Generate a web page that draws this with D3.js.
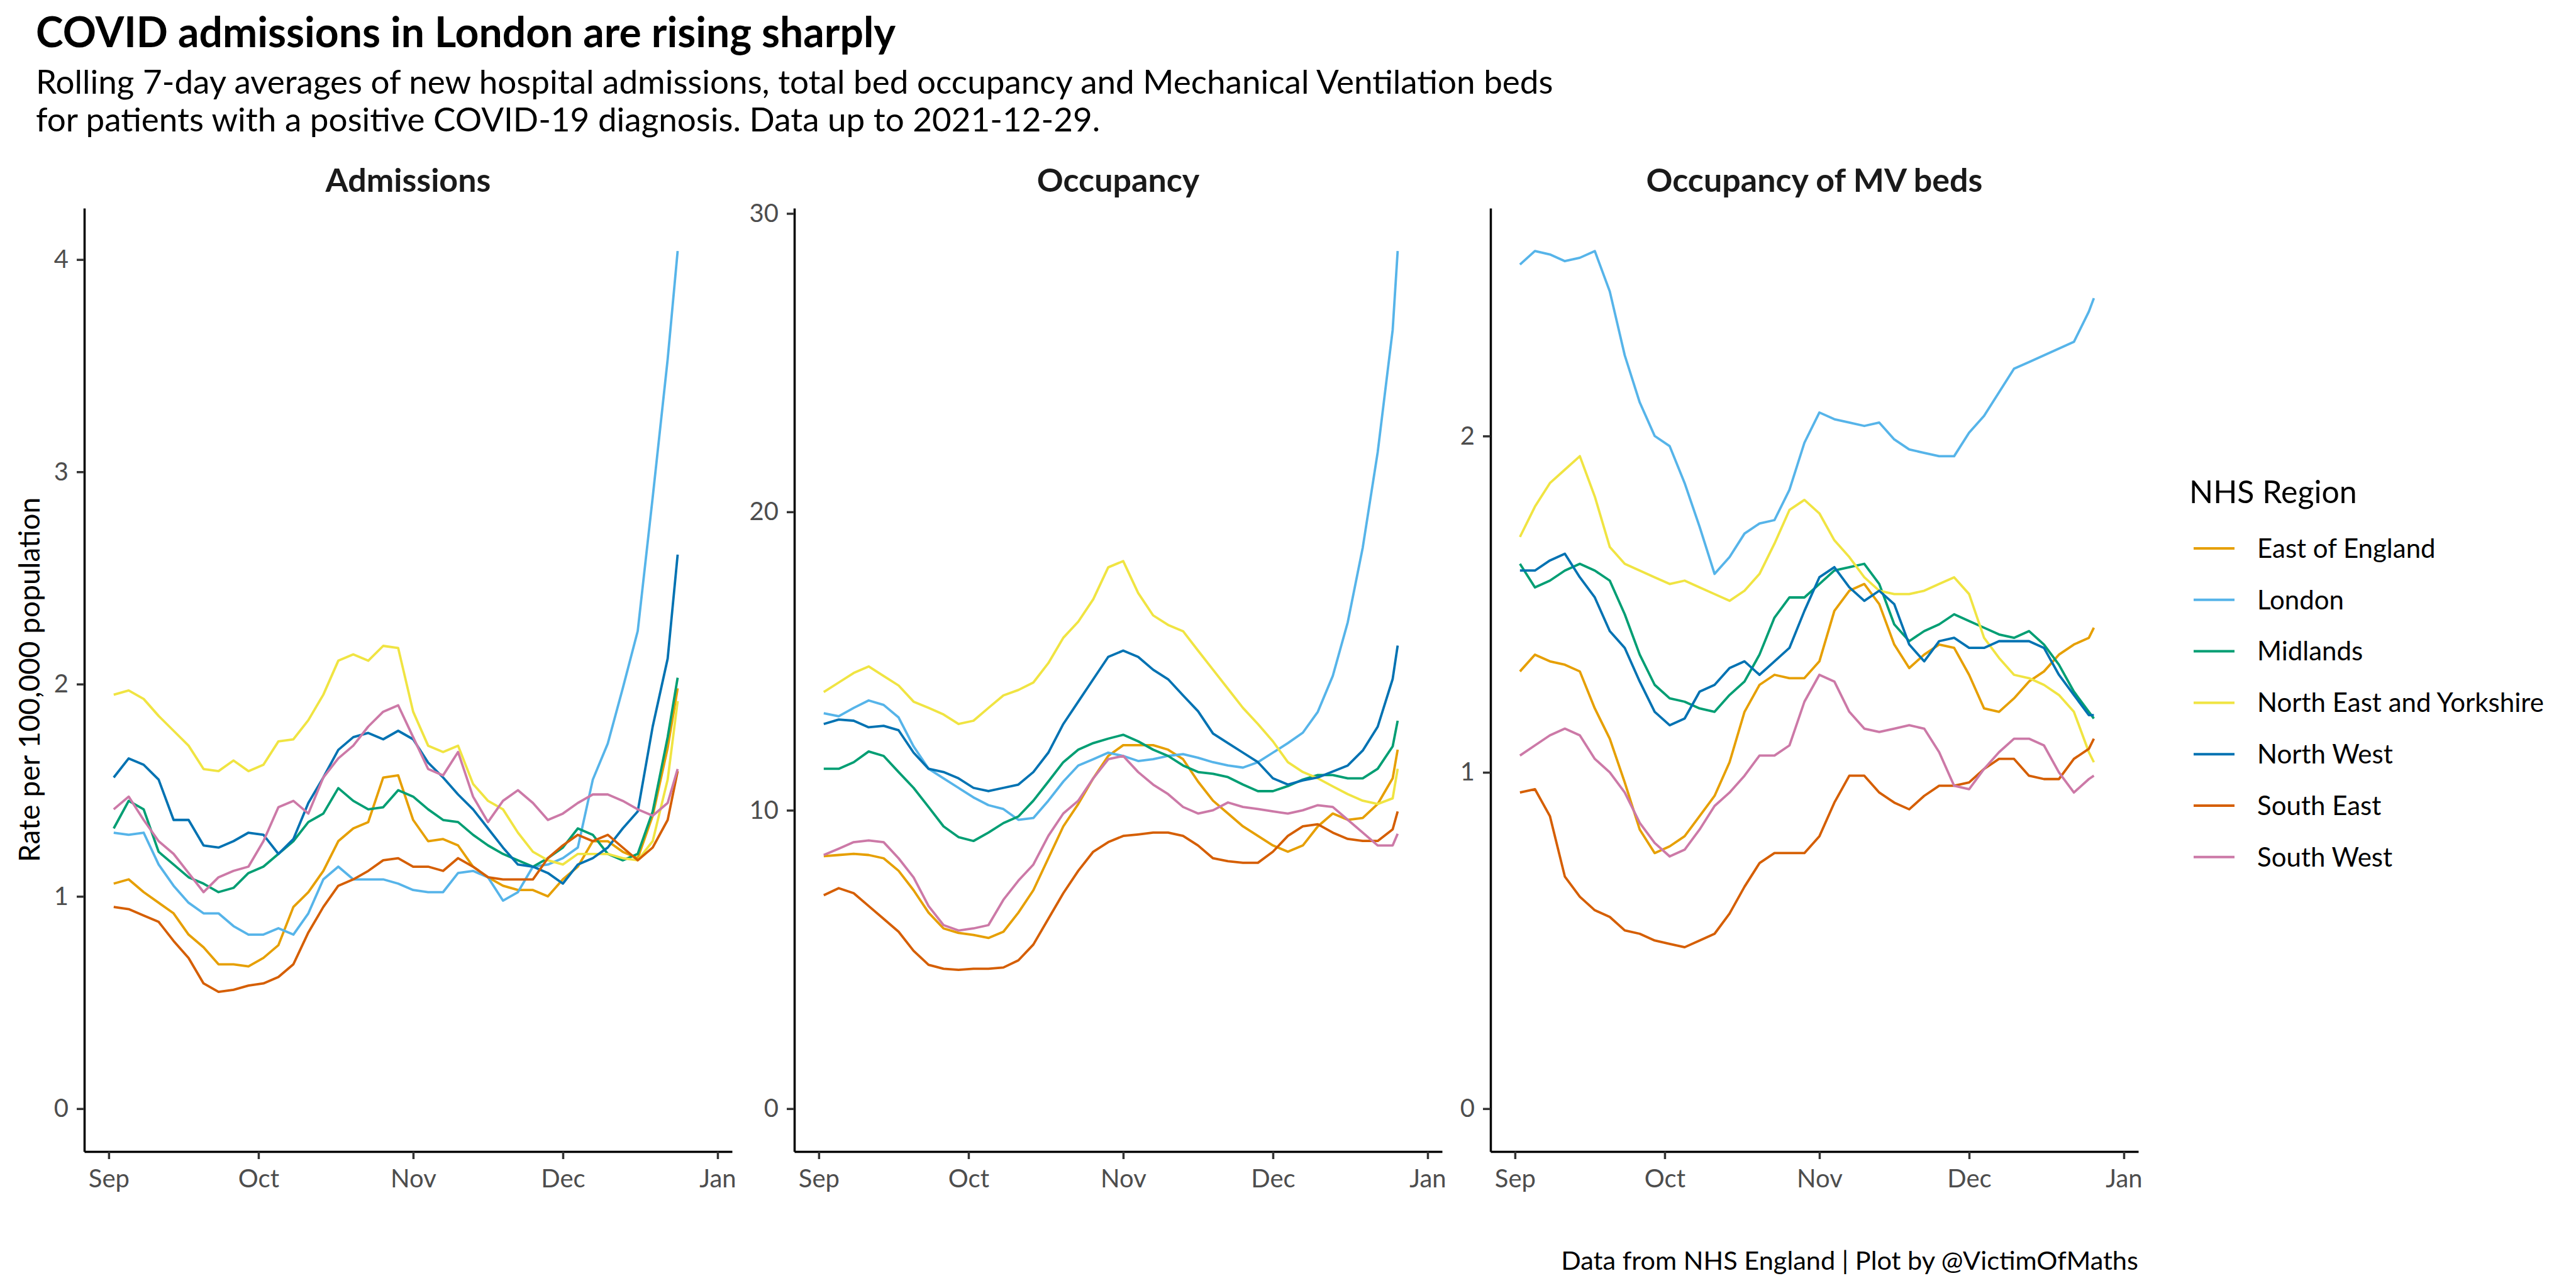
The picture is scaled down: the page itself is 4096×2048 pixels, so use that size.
<!DOCTYPE html>
<html><head><meta charset="utf-8">
<script src="https://cdn.jsdelivr.net/npm/d3@7"></script>
<style>
body{margin:0;background:#fff}
svg{display:block}
text{font-family:Lato,"Noto Sans",sans-serif}
</style>
</head><body>
<svg id="chart" width="4096" height="2048"></svg>
<script>
// ---------- data ----------
const regions = ["East of England","London","Midlands","North East and Yorkshire","North West","South East","South West"];
const regionColors = ["#E69F00","#56B4E9","#009E73","#F0E442","#0072B2","#D55E00","#CC79A7"];
const panelTitles = ["Admissions","Occupancy","Occupancy of MV beds"];
const monthLabels = ["Sep","Oct","Nov","Dec","Jan"];
const admTicks = [0,1,2,3,4];
const occTicks = [0,10,20,30];
const mvTicks = [0,1,2];

// day offsets from 2021-09-01
const admDays = [1,4,7,10,13,16,19,22,25,28,31,34,37,40,43,46,49,52,55,58,61,64,67,70,73,76,79,82,85,88,91,94,97,100,103,106,109,112,114];
const occDays = [1,4,7,10,13,16,19,22,25,28,31,34,37,40,43,46,49,52,55,58,61,64,67,70,73,76,79,82,85,88,91,94,97,100,103,106,109,112,115,116];

const admEast = [1.06,1.08,1.02,0.97,0.92,0.82,0.76,0.68,0.68,0.67,0.71,0.77,0.95,1.02,1.12,1.26,1.32,1.35,1.56,1.57,1.36,1.26,1.27,1.24,1.14,1.09,1.05,1.03,1.03,1.00,1.08,1.14,1.26,1.26,1.21,1.18,1.38,1.70,1.98];
const admLondon = [1.30,1.29,1.30,1.15,1.05,0.97,0.92,0.92,0.86,0.82,0.82,0.85,0.82,0.92,1.08,1.14,1.08,1.08,1.08,1.06,1.03,1.02,1.02,1.11,1.12,1.09,0.98,1.02,1.14,1.15,1.18,1.23,1.55,1.72,1.98,2.25,2.88,3.53,4.04];
const admMidlands = [1.32,1.45,1.41,1.21,1.15,1.09,1.06,1.02,1.04,1.11,1.14,1.20,1.26,1.35,1.39,1.51,1.45,1.41,1.42,1.50,1.47,1.41,1.36,1.35,1.29,1.24,1.20,1.17,1.14,1.18,1.23,1.32,1.29,1.20,1.17,1.20,1.40,1.75,2.03];
const admNEY = [1.95,1.97,1.93,1.85,1.78,1.71,1.60,1.59,1.64,1.59,1.62,1.73,1.74,1.83,1.95,2.11,2.14,2.11,2.18,2.17,1.87,1.71,1.68,1.71,1.53,1.45,1.41,1.30,1.21,1.17,1.15,1.20,1.20,1.20,1.18,1.17,1.26,1.55,1.92];
const admNW = [1.56,1.65,1.62,1.55,1.36,1.36,1.24,1.23,1.26,1.30,1.29,1.20,1.27,1.44,1.56,1.69,1.75,1.77,1.74,1.78,1.74,1.63,1.56,1.48,1.41,1.32,1.23,1.15,1.14,1.11,1.06,1.15,1.18,1.23,1.32,1.40,1.80,2.12,2.61];
const admSE = [0.95,0.94,0.91,0.88,0.79,0.71,0.59,0.55,0.56,0.58,0.59,0.62,0.68,0.83,0.95,1.05,1.08,1.12,1.17,1.18,1.14,1.14,1.12,1.18,1.14,1.09,1.08,1.08,1.08,1.18,1.24,1.29,1.26,1.29,1.23,1.17,1.23,1.36,1.59];
const admSW = [1.41,1.47,1.36,1.26,1.20,1.11,1.02,1.09,1.12,1.14,1.26,1.42,1.45,1.39,1.56,1.65,1.71,1.80,1.87,1.90,1.75,1.60,1.57,1.68,1.47,1.35,1.45,1.50,1.44,1.36,1.39,1.44,1.48,1.48,1.45,1.41,1.38,1.44,1.60];

const occEast = [8.46,8.50,8.54,8.50,8.39,7.97,7.32,6.57,6.04,5.89,5.82,5.72,5.93,6.57,7.32,8.39,9.46,10.21,11.07,11.82,12.18,12.18,12.18,12.03,11.71,10.96,10.32,9.89,9.46,9.14,8.82,8.61,8.82,9.46,9.89,9.68,9.74,10.21,11.07,12.03];
const occLondon = [13.25,13.15,13.43,13.68,13.53,13.11,12.14,11.39,11.07,10.75,10.43,10.17,10.04,9.68,9.74,10.32,10.96,11.50,11.71,11.93,11.82,11.65,11.71,11.82,11.88,11.76,11.61,11.50,11.43,11.61,11.93,12.25,12.60,13.30,14.50,16.30,18.80,22.00,26.10,28.74];
const occMidlands = [11.39,11.39,11.61,11.97,11.82,11.28,10.75,10.11,9.46,9.10,8.97,9.25,9.57,9.79,10.32,10.96,11.61,12.03,12.25,12.40,12.53,12.31,12.03,11.82,11.50,11.28,11.22,11.11,10.86,10.64,10.64,10.81,11.03,11.18,11.18,11.07,11.07,11.39,12.14,13.00];
const occNEY = [13.96,14.28,14.60,14.82,14.50,14.18,13.64,13.43,13.21,12.89,13.00,13.43,13.85,14.03,14.28,14.93,15.78,16.32,17.07,18.14,18.35,17.28,16.53,16.21,16.00,15.35,14.71,14.07,13.43,12.89,12.31,11.61,11.28,11.07,10.80,10.54,10.32,10.21,10.40,11.39];
const occNW = [12.89,13.04,13.00,12.78,12.83,12.68,11.93,11.39,11.28,11.07,10.75,10.64,10.75,10.86,11.28,11.93,12.89,13.64,14.39,15.14,15.35,15.14,14.71,14.39,13.85,13.32,12.57,12.25,11.93,11.61,11.07,10.86,11.00,11.10,11.30,11.50,12.00,12.80,14.40,15.52];
const occSE = [7.15,7.39,7.22,6.79,6.36,5.93,5.29,4.82,4.69,4.65,4.69,4.69,4.73,4.97,5.50,6.36,7.22,7.97,8.61,8.93,9.14,9.19,9.25,9.25,9.14,8.82,8.39,8.29,8.24,8.24,8.61,9.14,9.46,9.53,9.25,9.04,8.97,8.97,9.36,9.96];
const occSW = [8.50,8.71,8.93,8.99,8.93,8.39,7.75,6.79,6.15,5.97,6.04,6.15,7.00,7.64,8.18,9.14,9.89,10.32,11.07,11.71,11.82,11.28,10.86,10.54,10.11,9.89,10.00,10.26,10.11,10.04,9.96,9.89,10.00,10.17,10.11,9.68,9.25,8.82,8.82,9.21];

const mvEast = [1.30,1.35,1.33,1.32,1.30,1.19,1.10,0.97,0.83,0.76,0.78,0.81,0.87,0.93,1.03,1.18,1.26,1.29,1.28,1.28,1.33,1.48,1.54,1.56,1.50,1.38,1.31,1.35,1.38,1.37,1.29,1.19,1.18,1.22,1.27,1.30,1.35,1.38,1.40,1.43];
const mvLondon = [2.51,2.55,2.54,2.52,2.53,2.55,2.43,2.24,2.10,2.00,1.97,1.86,1.73,1.59,1.64,1.71,1.74,1.75,1.84,1.98,2.07,2.05,2.04,2.03,2.04,1.99,1.96,1.95,1.94,1.94,2.01,2.06,2.13,2.20,2.22,2.24,2.26,2.28,2.37,2.41];
const mvMidlands = [1.62,1.55,1.57,1.60,1.62,1.60,1.57,1.47,1.35,1.26,1.22,1.21,1.19,1.18,1.23,1.27,1.35,1.46,1.52,1.52,1.56,1.60,1.61,1.62,1.56,1.44,1.39,1.42,1.44,1.47,1.45,1.43,1.41,1.40,1.42,1.38,1.32,1.24,1.18,1.16];
const mvNEY = [1.70,1.79,1.86,1.90,1.94,1.82,1.67,1.62,1.60,1.58,1.56,1.57,1.55,1.53,1.51,1.54,1.59,1.68,1.78,1.81,1.77,1.69,1.64,1.58,1.54,1.53,1.53,1.54,1.56,1.58,1.53,1.40,1.34,1.29,1.28,1.26,1.23,1.18,1.06,1.03];
const mvNW = [1.60,1.60,1.63,1.65,1.58,1.52,1.42,1.37,1.27,1.18,1.14,1.16,1.24,1.26,1.31,1.33,1.29,1.33,1.37,1.48,1.58,1.61,1.55,1.51,1.54,1.50,1.38,1.33,1.39,1.40,1.37,1.37,1.39,1.39,1.39,1.37,1.29,1.23,1.17,1.17];
const mvSE = [0.94,0.95,0.87,0.69,0.63,0.59,0.57,0.53,0.52,0.50,0.49,0.48,0.50,0.52,0.58,0.66,0.73,0.76,0.76,0.76,0.81,0.91,0.99,0.99,0.94,0.91,0.89,0.93,0.96,0.96,0.97,1.01,1.04,1.04,0.99,0.98,0.98,1.04,1.07,1.10];
const mvSW = [1.05,1.08,1.11,1.13,1.11,1.04,1.00,0.94,0.85,0.79,0.75,0.77,0.83,0.90,0.94,0.99,1.05,1.05,1.08,1.21,1.29,1.27,1.18,1.13,1.12,1.13,1.14,1.13,1.06,0.96,0.95,1.01,1.06,1.10,1.10,1.08,1.00,0.94,0.98,0.99];

// ---------- layout ----------
const svg = d3.select("#chart");
const panelLeft = [134, 1263, 2370];
const panelW = 1030;
const panelTop = 331, panelBottom = 1831;
const baseDate = Date.UTC(2021, 8, 1);
const DAY = 86400000;
const dataStart = Date.UTC(2021, 8, 2), dataEnd = Date.UTC(2021, 11, 29);
const pad = (dataEnd - dataStart) * 0.05;

const panels = [
  {title: panelTitles[0], days: admDays, ticks: admTicks, series: [admEast, admLondon, admMidlands, admNEY, admNW, admSE, admSW]},
  {title: panelTitles[1], days: occDays, ticks: occTicks, series: [occEast, occLondon, occMidlands, occNEY, occNW, occSE, occSW]},
  {title: panelTitles[2], days: occDays, ticks: mvTicks, series: [mvEast, mvLondon, mvMidlands, mvNEY, mvNW, mvSE, mvSW]}
];

// titles
svg.append("text").attr("x", 57).attr("y", 75).attr("font-size", 66).attr("font-weight", 700).attr("fill", "#000")
  .text("COVID admissions in London are rising sharply");
svg.append("text").attr("x", 57).attr("y", 149).attr("font-size", 53).attr("fill", "#000")
  .text("Rolling 7-day averages of new hospital admissions, total bed occupancy and Mechanical Ventilation beds");
svg.append("text").attr("x", 57).attr("y", 209).attr("font-size", 53).attr("fill", "#000")
  .text("for patients with a positive COVID-19 diagnosis. Data up to 2021-12-29.");

// y axis title
svg.append("text").attr("transform", `translate(63,${(panelTop + panelBottom) / 2}) rotate(-90)`)
  .attr("text-anchor", "middle").attr("font-size", 46).attr("fill", "#000")
  .text("Rate per 100,000 population");

const line = d3.line().curve(d3.curveLinear);

panels.forEach((p, i) => {
  const x0 = panelLeft[i];
  const x = d3.scaleUtc().domain([new Date(dataStart - pad), new Date(dataEnd + pad)]).range([x0, x0 + panelW]);
  const ymax = d3.max(p.series, s => d3.max(s));
  const y = d3.scaleLinear().domain([-0.05 * ymax, ymax * 1.05]).range([panelBottom, panelTop]);

  // strip title
  svg.append("text").attr("x", x0 + panelW / 2).attr("y", 305).attr("text-anchor", "middle")
    .attr("font-size", 52).attr("font-weight", 700).attr("fill", "#1a1a1a").text(p.title);

  // lines
  const g = svg.append("g");
  p.series.forEach((s, k) => {
    const pts = s.map((v, j) => [x(new Date(baseDate + p.days[j] * DAY)), y(v)]);
    g.append("path").attr("d", line(pts)).attr("fill", "none")
      .attr("stroke", regionColors[k]).attr("stroke-width", 3.8).attr("stroke-linejoin", "round");
  });

  // axes
  const xAxis = d3.axisBottom(x).ticks(d3.utcMonth.every(1))
    .tickFormat((d, j) => monthLabels[j]).tickSize(12).tickSizeOuter(0);
  const gx = svg.append("g").attr("transform", `translate(0,${panelBottom})`).call(xAxis);
  const yAxis = d3.axisLeft(y).tickValues(p.ticks).tickFormat(d3.format("d")).tickSize(12).tickSizeOuter(0).tickPadding(13);
  const gy = svg.append("g").attr("transform", `translate(${x0},0)`).call(yAxis);
  [gx, gy].forEach(ga => {
    ga.select(".domain").attr("stroke", "#000").attr("stroke-width", 3.5);
    ga.selectAll(".tick line").attr("stroke", "#333").attr("stroke-width", 3.5);
    ga.selectAll(".tick text").attr("font-size", 40).attr("fill", "#4D4D4D").attr("font-family", "Lato");
  });
  gx.selectAll(".tick text").attr("y", 57).attr("dy", 0);
});

// legend
const lg = svg.append("g");
lg.append("text").attr("x", 3481).attr("y", 800).attr("font-size", 50).attr("fill", "#000").text("NHS Region");
regions.forEach((r, k) => {
  const cy = 872 + k * 81.8;
  lg.append("line").attr("x1", 3488).attr("x2", 3553).attr("y1", cy).attr("y2", cy)
    .attr("stroke", regionColors[k]).attr("stroke-width", 4);
  lg.append("text").attr("x", 3589).attr("y", cy).attr("dy", "0.35em").attr("font-size", 42).attr("fill", "#000").text(r);
});

// caption
svg.append("text").attr("x", 3400).attr("y", 2019).attr("text-anchor", "end").attr("font-size", 41.5).attr("fill", "#000")
  .text("Data from NHS England | Plot by @VictimOfMaths");
</script>
</body></html>
